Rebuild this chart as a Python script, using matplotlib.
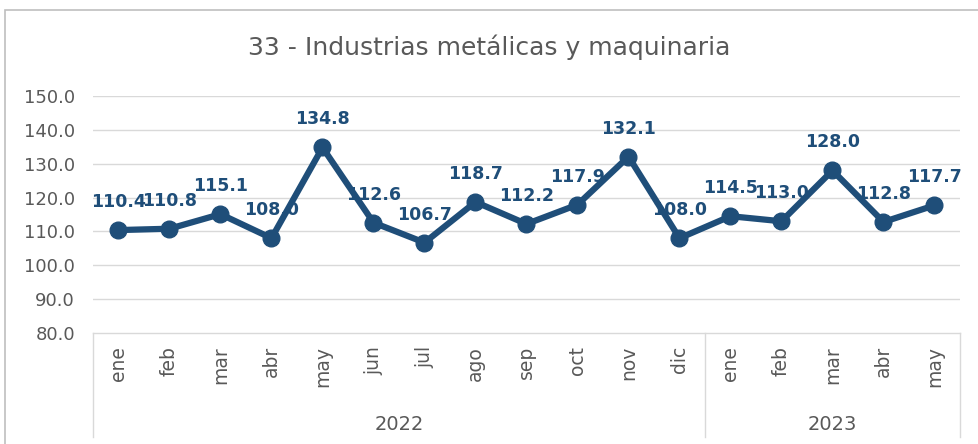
import matplotlib.pyplot as plt
from matplotlib.patches import Rectangle

plt.rcParams['font.family'] = ['DejaVu Sans']

months = ['ene', 'feb', 'mar', 'abr', 'may', 'jun', 'jul', 'ago', 'sep', 'oct', 'nov', 'dic',
          'ene', 'feb', 'mar', 'abr', 'may']
years = ['2022', '2023']
year_counts = [12, 5]
values = [110.4, 110.8, 115.1, 108.0, 134.8, 112.6, 106.7, 118.7, 112.2, 117.9, 132.1, 108.0,
          114.5, 113.0, 128.0, 112.8, 117.7]

blue = '#1f4e79'
grey_txt = '#595959'
grid_c = '#d9d9d9'

fig = plt.figure(figsize=(9.79, 4.44), dpi=100)
# outer chart frame, cut off on the right and bottom like the screenshot
fig.patches.append(Rectangle((5 / 979, -0.1), 1.2, 1.1 - 10 / 444,
                             transform=fig.transFigure, fill=False, edgecolor='#bfbfbf', lw=1.2))
ax = fig.add_axes([93 / 979, 111 / 444, 867 / 979, 237 / 444])

x = list(range(len(values)))
ax.plot(x, values, color=blue, lw=4.5, marker='o', markersize=12, zorder=3)
for xi, v in zip(x, values):
    ax.annotate(f'{v:.1f}', (xi, v), xytext=(0, 19), textcoords='offset pixels',
                ha='center', va='bottom', fontsize=12.5, fontweight='bold', color=blue, zorder=4)

ax.set_xlim(-0.5, len(values) - 0.5)
ax.set_ylim(80, 150)
ax.set_yticks(range(80, 151, 10))
ax.set_yticklabels([f'{t:.1f}' for t in range(80, 151, 10)], color=grey_txt, fontsize=13)
ax.tick_params(axis='y', length=0, pad=13)
ax.set_xticks([])
for s in ax.spines.values():
    s.set_visible(False)
for t in range(90, 151, 10):
    ax.axhline(t, color=grid_c, lw=1, zorder=1)

# category axis with year groups
tr = ax.get_xaxis_transform()
ax.plot([-0.5, len(values) - 0.5], [0, 0], transform=tr, color=grid_c, lw=1, clip_on=False)
depth = -104 / 237
start = 0
bounds = [-0.5]
for n in year_counts:
    start += n
    bounds.append(start - 0.5)
for b in bounds:
    ax.plot([b, b], [0, depth], transform=tr, color=grid_c, lw=1, clip_on=False)
for xi, m in zip(x, months):
    ax.text(xi, -13 / 237, m, transform=tr, rotation=90, ha='center', va='top',
            fontsize=13.5, color=grey_txt)
for i, yr in enumerate(years):
    ax.text((bounds[i] + bounds[i + 1]) / 2, -91 / 237, yr, transform=tr, ha='center',
            va='center', fontsize=14, color=grey_txt)

fig.text(0.5, 1 - 47 / 444, '33 - Industrias metálicas y maquinaria', ha='center', va='center',
         fontsize=18, color=grey_txt)

fig.savefig('out.png', dpi=100)
